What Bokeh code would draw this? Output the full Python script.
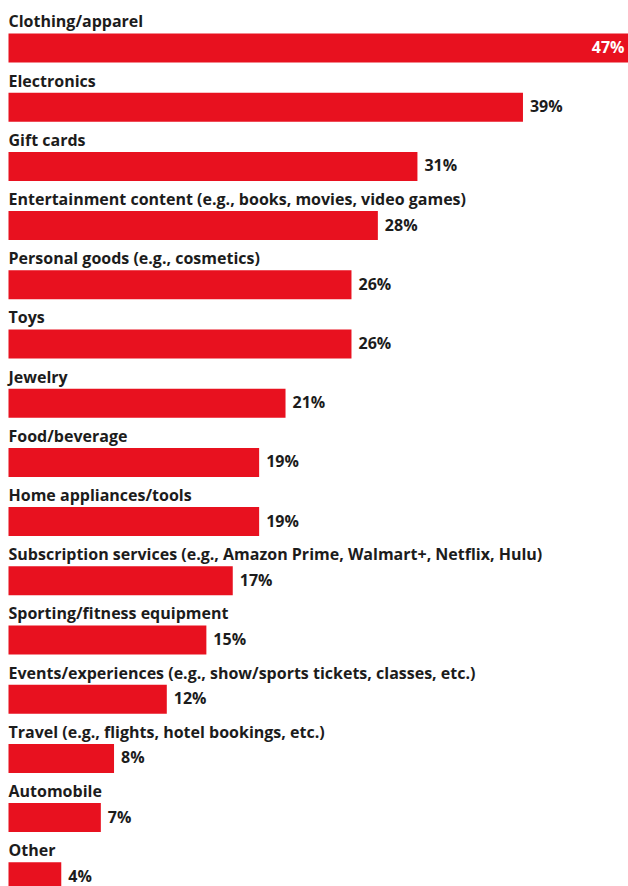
from bokeh.plotting import figure
from bokeh.models import Range1d, ColumnDataSource
from bokeh.core.properties import value
from bokeh.embed import file_html
from bokeh.resources import INLINE

categories = [
    "Clothing/apparel",
    "Electronics",
    "Gift cards",
    "Entertainment content (e.g., books, movies, video games)",
    "Personal goods (e.g., cosmetics)",
    "Toys",
    "Jewelry",
    "Food/beverage",
    "Home appliances/tools",
    "Subscription services (e.g., Amazon Prime, Walmart+, Netflix, Hulu)",
    "Sporting/fitness equipment",
    "Events/experiences (e.g., show/sports tickets, classes, etc.)",
    "Travel (e.g., flights, hotel bookings, etc.)",
    "Automobile",
    "Other",
]
values = [47, 39, 31, 28, 26, 26, 21, 19, 19, 17, 15, 12, 8, 7, 4]

RED = "#E8111F"
DARK = "#1c1c1c"
FONT = "Open Sans"

W, H = 628, 886
pitch = 59.2
scale = 620 / 47.0

rows = list(range(len(categories)))
labels = [f"{v}%" for v in values]

src = ColumnDataSource(dict(
    y=rows,
    v=values,
    cat=categories,
    lab_y=[r - 0.45 for r in rows],
))

p = figure(width=W, height=H, output_backend="svg", toolbar_location=None,
           min_border=0, min_border_left=0, min_border_right=0,
           min_border_top=0, min_border_bottom=0)
p.x_range = Range1d(-8 / scale, 47)
p.y_range = Range1d((H - 47.5) / pitch, -47.5 / pitch)
p.axis.visible = False
p.grid.visible = False
p.outline_line_color = None
p.background_fill_color = "white"
p.border_fill_color = "white"

p.hbar(y="y", left=0, right="v", height=29 / pitch, source=src,
       fill_color=RED, line_color=None)

p.text(x=0, y="lab_y", text="cat", source=src, text_font=value(FONT),
       text_font_style="bold", text_font_size="16px", text_color=DARK,
       text_baseline="alphabetic", text_align="left")

# value labels: outside for all but the longest bar
out_src = ColumnDataSource(dict(y=rows[1:], v=values[1:], lab=labels[1:]))
p.text(x="v", y="y", text="lab", source=out_src, x_offset=7, y_offset=-1,
       text_font=value(FONT), text_font_style="bold", text_font_size="16px",
       text_color=DARK, text_baseline="middle", text_align="left")

in_src = ColumnDataSource(dict(y=rows[:1], v=values[:1], lab=labels[:1]))
p.text(x="v", y="y", text="lab", source=in_src, x_offset=-4, y_offset=-1,
       text_font=value(FONT), text_font_style="bold", text_font_size="16px",
       text_color="white", text_baseline="middle", text_align="right")

open("out.html", "w").write(file_html(p, INLINE))
